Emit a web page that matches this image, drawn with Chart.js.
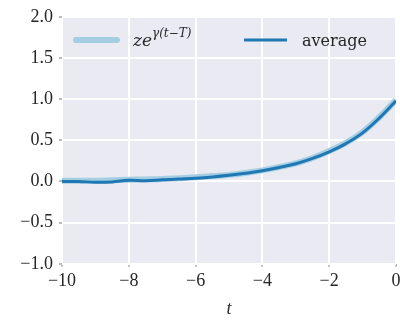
<!DOCTYPE html>
<html>
<head>
<meta charset="utf-8">
<script src="https://cdn.jsdelivr.net/npm/chart.js@4"></script>
<style>
  html, body { margin: 0; padding: 0; background: #fff; }
  #wrap { width: 400px; height: 320px; }
</style>
</head>
<body>
<div id="wrap"><canvas id="myChart"></canvas></div>
<script>
// values
const tValues = [-10, -9.5, -9, -8.5, -8, -7.5, -7, -6.5, -6, -5.5, -5, -4.5, -4, -3.5, -3, -2.5, -2, -1.5, -1, -0.5, 0];
const expValues = [0.01, 0.01, 0.01, 0.015, 0.02, 0.025, 0.03, 0.04, 0.05, 0.065, 0.08, 0.105, 0.135, 0.175, 0.22, 0.285, 0.37, 0.47, 0.6, 0.78, 0.99];
const avgValues = [0.0, 0.0, -0.01, -0.005, 0.015, 0.01, 0.02, 0.03, 0.04, 0.055, 0.075, 0.1, 0.13, 0.17, 0.215, 0.28, 0.36, 0.46, 0.59, 0.77, 0.98];
const xTicks = [-10, -8, -6, -4, -2, 0];
const yTicks = [-1.0, -0.5, 0.0, 0.5, 1.0, 1.5, 2.0];

const lightBlue = '#a6cee3';
const darkBlue = '#1f78b4';
const serif = "'Liberation Serif', 'DejaVu Serif', serif";
const wideSerif = "'DejaVu Serif', serif";

function minus(s) { return s.replace('-', '\u2212'); }

const bgPlugin = {
    id: 'bg',
    beforeDraw(chart) {
        const a = chart.chartArea;
        const c = chart.ctx;
        c.save();
        c.fillStyle = '#eaeaf2';
        c.fillRect(a.left, a.top, a.right - a.left, a.bottom - a.top);
        c.restore();
    }
};

// legend drawn by hand so the exponent can be a superscript
const legendPlugin = {
    id: 'myLegend',
    afterDraw(chart) {
        const c = chart.ctx;
        c.save();
        c.lineCap = 'round';
        c.strokeStyle = lightBlue;
        c.lineWidth = 6;
        c.beginPath(); c.moveTo(76, 40); c.lineTo(117, 40); c.stroke();
        c.strokeStyle = darkBlue;
        c.lineWidth = 3;
        c.lineCap = 'butt';
        c.beginPath(); c.moveTo(244, 40); c.lineTo(287, 40); c.stroke();

        c.fillStyle = '#262626';
        c.textBaseline = 'alphabetic';
        c.font = 'italic 17px ' + wideSerif;
        c.fillText('ze', 133, 46);
        c.font = 'italic 12px ' + wideSerif;
        c.fillText('\u03b3(t\u2212T)', 152, 37);
        c.font = '16px ' + wideSerif;
        c.fillText('average', 302, 46);
        c.restore();
    }
};

const data = {
    datasets: [{
        label: 'ze^{γ(t−T)}',
        data: tValues.map((t, i) => ({ x: t, y: expValues[i] })),
        borderColor: lightBlue,
        borderWidth: 6,
        pointRadius: 0,
        tension: 0.4,
        order: 2
    }, {
        label: 'average',
        data: tValues.map((t, i) => ({ x: t, y: avgValues[i] })),
        borderColor: darkBlue,
        borderWidth: 3,
        pointRadius: 0,
        tension: 0.4,
        order: 1
    }]
};

const config = {
    type: 'line',
    data,
    options: {
        animation: false,
        responsive: true,
        maintainAspectRatio: false,
        layout: { padding: { top: 8, right: 4, left: 0, bottom: 0 } },
        plugins: { legend: { display: false }, tooltip: { enabled: false } },
        scales: {
            x: {
                type: 'linear',
                min: -10,
                max: 0,
                afterBuildTicks(scale) { scale.ticks = xTicks.map(v => ({ value: v })); },
                afterFit(scale) { scale.paddingRight = 0; scale.paddingLeft = 0; },
                ticks: {
                    color: '#262626',
                    font: { family: serif, size: 18 },
                    padding: 4,
                    maxRotation: 0,
                    callback: v => minus(String(v))
                },
                grid: { color: '#ffffff', lineWidth: 2, tickLength: 3, tickColor: '#bbbbbb' },
                border: { display: false },
                title: { display: true, text: 't', color: '#262626', font: { family: serif, size: 18, style: 'italic' }, padding: { top: 2, bottom: 0 } }
            },
            y: {
                min: -1,
                max: 2,
                afterBuildTicks(scale) { scale.ticks = yTicks.map(v => ({ value: v })); },
                afterFit(scale) { scale.width = 62; },
                ticks: {
                    color: '#262626',
                    font: { family: serif, size: 18 },
                    padding: 6,
                    callback: v => minus(v.toFixed(1))
                },
                grid: { color: '#ffffff', lineWidth: 2, tickLength: 3, tickColor: '#bbbbbb' },
                border: { display: false }
            }
        }
    },
    plugins: [bgPlugin, legendPlugin]
};

const myChart = new Chart(document.getElementById('myChart'), config);
</script>
</body>
</html>
